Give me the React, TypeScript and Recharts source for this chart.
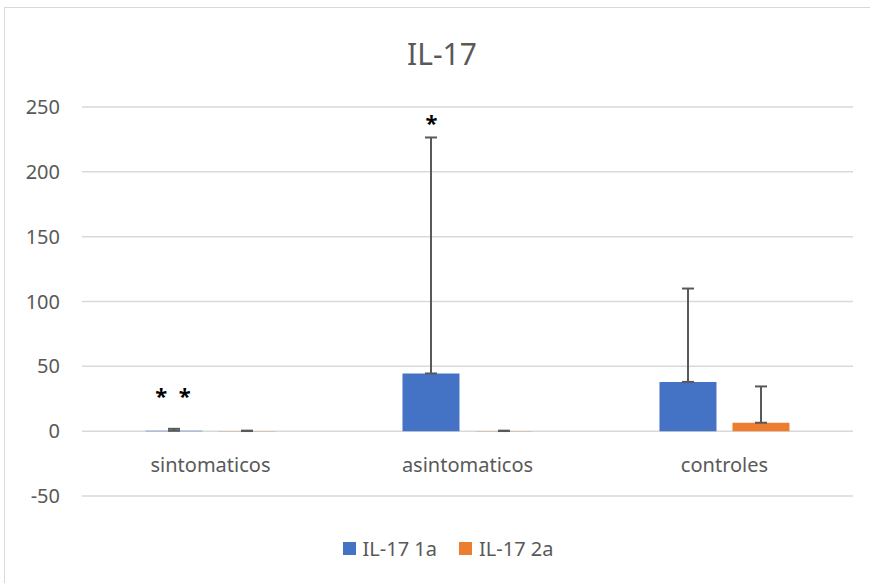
import React from 'react';
import {
  BarChart, Bar, XAxis, YAxis, CartesianGrid, ErrorBar, Legend, ReferenceDot,
} from 'recharts';

const categories = ['sintomaticos', 'asintomaticos', 'controles'];
const il17_1a = [0.3, 44.5, 38];
const il17_1a_err = [1.5, 182, 72];
const il17_2a = [0.1, 0.1, 6.5];
const il17_2a_err = [0.3, 0.3, 28];
const yTicks = [-50, 0, 50, 100, 150, 200, 250];
const markCategories = ['sintomaticos', 'asintomaticos'];
const markTexts = ['* *', '*'];
const markValues = [30.5, 241];

const data = categories.map((c, i) => ({
  category: c,
  a1: il17_1a[i],
  a1err: [0, il17_1a_err[i]],
  a2: il17_2a[i],
  a2err: [0, il17_2a_err[i]],
}));

const FONT = '"Noto Sans", "Open Sans", sans-serif';
const GREY = '#595959';

const CategoryTick = (props: any) => {
  const { x, y, payload } = props;
  return (
    <text x={x} y={y - 32} textAnchor="middle" dominantBaseline="central"
      fill={GREY} fontSize={20} fontFamily={FONT}>
      {payload.value}
    </text>
  );
};

const LegendContent = (props: any) => {
  const { payload } = props;
  return (
    <div style={{ display: 'flex', justifyContent: 'center', alignItems: 'center', fontFamily: FONT, fontSize: 20, color: GREY, lineHeight: '23px' }}>
      {(payload || []).map((p: any, i: number) => (
        <div key={i} style={{ display: 'flex', alignItems: 'center', marginRight: i === 0 ? 22 : 0 }}>
          <span style={{ width: 13, height: 13, background: p.color, display: 'inline-block', marginRight: 7 }} />
          <span>{p.value}</span>
        </div>
      ))}
    </div>
  );
};

const MarkLabel = (text: string) => (props: any) => {
  const { viewBox } = props;
  const cx = viewBox.x + viewBox.width / 2 - 36;
  const cy = viewBox.y + viewBox.height / 2;
  return (
    <text x={cx} y={cy + 12} textAnchor="middle" fill="#000" fontSize={22}
      fontWeight="bold" fontFamily={FONT} letterSpacing={text.length > 1 ? 3 : 0}
      style={{ whiteSpace: 'pre' }}>
      {text}
    </text>
  );
};

export default function App() {
  return (
    <div style={{ position: 'absolute', left: 0, top: 0, width: 870, height: 583, overflow: 'hidden', background: '#fff' }}>
      <div style={{ position: 'absolute', left: 4, top: 7, width: 900, height: 700, border: '1.5px solid #d9d9d9', boxSizing: 'border-box' }} />
      <div style={{ position: 'absolute', left: 0, width: 884, top: 36, textAlign: 'center', fontFamily: FONT, fontSize: 30, color: GREY, lineHeight: '36px' }}>
        IL-17
      </div>
      <div style={{ position: 'absolute', left: 0, top: 0 }}>
        <BarChart width={870} height={583} data={data}
          margin={{ top: 107, right: 17, left: 0, bottom: 57 }}
          barCategoryGap="24.7%" barGap={16}>
          <CartesianGrid vertical={false} stroke="#d9d9d9" strokeWidth={1.5} />
          <XAxis dataKey="category" axisLine={false} tickLine={false} tickSize={0} tickMargin={0}
            height={30} tick={<CategoryTick />} interval={0} />
          <YAxis width={82} domain={[-50, 250]} ticks={yTicks} axisLine={false} tickLine={false}
            tickMargin={16} tick={{ fill: GREY, fontSize: 20, fontFamily: FONT }} />
          <Legend layout="horizontal" verticalAlign="middle" align="center"
            wrapperStyle={{ top: 537, left: 26, width: 844 }} content={<LegendContent />} />
          <Bar dataKey="a1" name="IL-17 1a" fill="#4472C4" isAnimationActive={false}>
            <ErrorBar dataKey="a1err" direction="y" width={6} stroke={GREY} strokeWidth={2} isAnimationActive={false} />
          </Bar>
          <Bar dataKey="a2" name="IL-17 2a" fill="#ED7D31" isAnimationActive={false}>
            <ErrorBar dataKey="a2err" direction="y" width={6} stroke={GREY} strokeWidth={2} isAnimationActive={false} />
          </Bar>
          {markCategories.map((c, i) => (
            <ReferenceDot key={c} x={c} y={markValues[i]} r={1} fill="none" stroke="none"
              label={MarkLabel(markTexts[i])} />
          ))}
        </BarChart>
      </div>
    </div>
  );
}
